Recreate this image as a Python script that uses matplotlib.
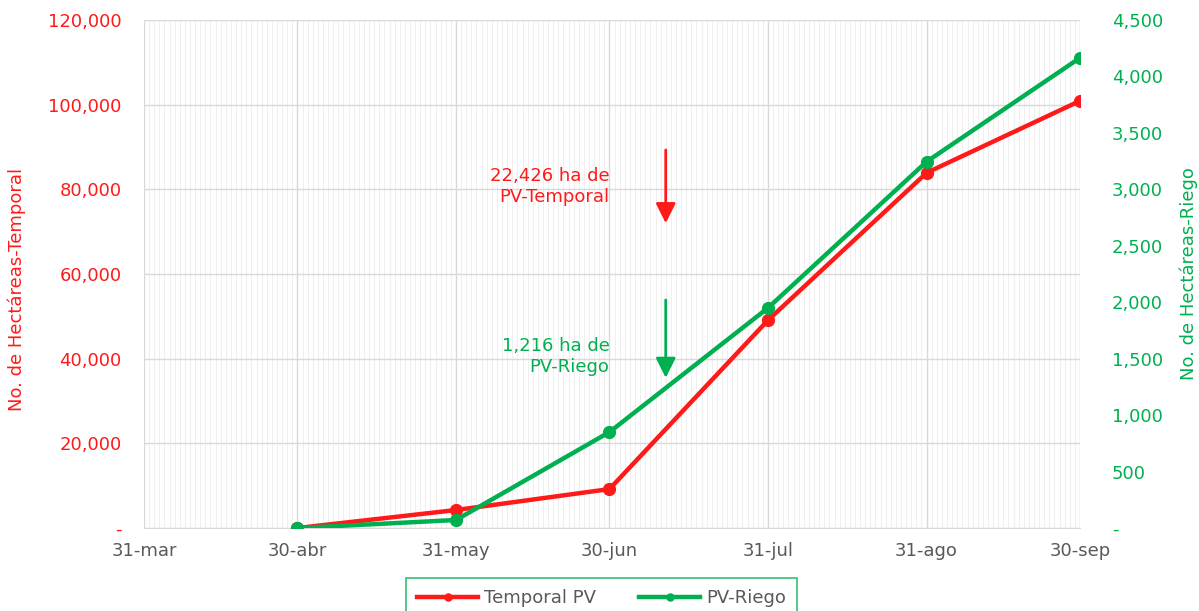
import numpy as np
import pandas as pd
import matplotlib
matplotlib.use('Agg')
import matplotlib.pyplot as plt
import matplotlib.dates as mdates
from matplotlib.ticker import FuncFormatter, MultipleLocator

plt.rcParams['font.family'] = ['DejaVu Sans']

fechas = pd.to_datetime(['2020-04-30', '2020-05-31', '2020-06-30', '2020-07-31', '2020-08-31', '2020-09-30'])
temporal = [0, 4250, 9200, 49100, 83900, 100900]
riego = [0, 71, 850, 1950, 3245, 4165]
tick_fechas = pd.to_datetime(['2020-03-31', '2020-04-30', '2020-05-31', '2020-06-30',
                              '2020-07-31', '2020-08-31', '2020-09-30'])
tick_labels = ['31-mar', '30-abr', '31-may', '30-jun', '31-jul', '31-ago', '30-sep']

rojo = '#FF1A1A'
verde = '#00B050'
gris = '#595959'
fs = 13

fig = plt.figure(figsize=(11.99, 6.11), dpi=100)
ax = fig.add_axes([0.1201, 0.1358, 0.7807, 0.8315])
ax2 = ax.twinx()

# grid: daily minor lines + month major lines
ax.xaxis.set_minor_locator(mdates.DayLocator())
ax.set_xticks(tick_fechas)
ax.set_xticklabels(tick_labels)
ax.grid(which='minor', axis='x', color='#EFEFEF', lw=0.8)
ax.grid(which='major', axis='both', color='#D9D9D9', lw=1)
ax.set_axisbelow(True)
ax.set_xlim(tick_fechas[0], tick_fechas[-1])

ax.set_ylim(0, 120000)
ax.yaxis.set_major_locator(MultipleLocator(20000))
ax2.set_ylim(0, 4500)
ax2.yaxis.set_major_locator(MultipleLocator(500))

fmt = FuncFormatter(lambda v, p: '-' if v == 0 else f'{v:,.0f}')
ax.yaxis.set_major_formatter(fmt)
ax2.yaxis.set_major_formatter(fmt)

for a in (ax, ax2):
    for s in a.spines.values():
        s.set_visible(False)
ax.spines['bottom'].set_visible(True)
ax.spines['bottom'].set_color('#D9D9D9')

ax.tick_params(axis='y', colors=rojo, labelsize=fs, length=0, pad=16)
ax2.tick_params(axis='y', colors=verde, labelsize=fs, length=0, pad=23)
ax.tick_params(axis='x', which='both', length=0, labelcolor=gris, labelsize=fs, pad=10)

ax.set_ylabel('No. de Hectáreas-Temporal', color=rojo, fontsize=fs)
ax2.set_ylabel('No. de Hectáreas-Riego', color=verde, fontsize=fs)
ax.yaxis.set_label_coords(-0.1261, 0.47)
ax2.yaxis.set_label_coords(1.1058, 0.5)

l1, = ax.plot(fechas, temporal, color=rojo, lw=3.2, marker='o', ms=8.5, label='Temporal PV', zorder=3)
l2, = ax2.plot(fechas, riego, color=verde, lw=3.2, marker='o', ms=8.5, label='PV-Riego', zorder=3)

# annotations
flecha_x = pd.Timestamp('2020-07-11')
ax.annotate('', xy=(flecha_x, 72000), xytext=(flecha_x, 89300),
            arrowprops=dict(arrowstyle='-|>,head_length=0.8,head_width=0.4', color=rojo, lw=2,
                            mutation_scale=15, shrinkA=0, shrinkB=0))
ax.text(pd.Timestamp('2020-06-30'), 80700, '22,426 ha de\nPV-Temporal', color=rojo,
        fontsize=fs, ha='right', va='center', linespacing=1.25)
ax2.annotate('', xy=(flecha_x, 1330), xytext=(flecha_x, 2020),
             arrowprops=dict(arrowstyle='-|>,head_length=0.8,head_width=0.4', color=verde, lw=2,
                             mutation_scale=15, shrinkA=0, shrinkB=0))
ax2.text(pd.Timestamp('2020-06-30'), 1520, '1,216 ha de\nPV-Riego', color=verde,
         fontsize=fs, ha='right', va='center', linespacing=1.25)

leg = fig.legend([l1, l2], ['Temporal PV', 'PV-Riego'], loc='upper center',
                 bbox_to_anchor=(0.5015, 1 - 578 / 611), ncol=2, frameon=True, fancybox=False,
                 fontsize=fs, handlelength=3.4, handletextpad=0.3, columnspacing=2.4,
                 borderpad=0.6, borderaxespad=0, markerscale=0.6)
leg.get_frame().set_edgecolor(verde)
leg.get_frame().set_linewidth(1.2)
for t in leg.get_texts():
    t.set_color(gris)

fig.savefig('out.png', dpi=100)
